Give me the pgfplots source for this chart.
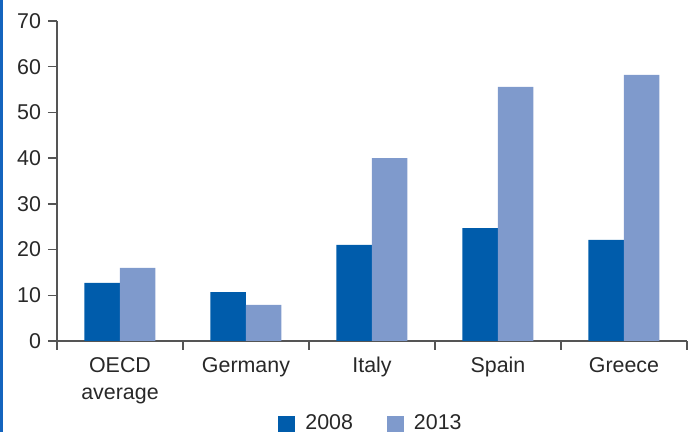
\documentclass[border=0pt]{standalone}
\usepackage{pgfplots}
\pgfplotsset{compat=1.18}
\usepackage{fontspec}
\setmainfont{Liberation Sans}

\definecolor{dark}{RGB}{0,92,171}
\definecolor{light}{RGB}{127,154,204}
\definecolor{axisgray}{RGB}{85,85,85}
\definecolor{txt}{RGB}{40,40,40}
\definecolor{edge}{RGB}{20,100,190}

\newcommand{\chartfont}{\fontsize{10.7}{13.5}\selectfont}

\pgfplotsset{
  sq legend/.style={legend image code/.code={%
    \path[draw=none, fill=none] (0pt,0pt) rectangle (11.5pt,1pt);
    \fill[##1] (0pt,-0.7pt) rectangle (8.5pt,7.8pt);}},
}

\begin{document}
\begin{tikzpicture}
\begin{axis}[
  at={(0,0)}, anchor=south west,
  scale only axis, width=315pt, height=160pt,
  ybar=0pt, bar width=17.75pt,
  xmin=-0.5, xmax=4.5, ymin=0, ymax=70,
  axis lines*=left,
  axis line style={axisgray, line width=0.7pt},
  ytick={0,10,...,70},
  xtick={-0.5,0.5,...,4.5},
  x tick label as interval,
  xticklabels={{OECD\\average},Germany,Italy,Spain,Greece},
  tick align=outside, major tick length=4.5pt,
  tick style={axisgray, line width=0.7pt},
  ticklabel style={font=\chartfont, text=txt},
  xticklabel style={align=center},
  /pgf/number format/assume math mode=true,
  legend columns=-1,
  legend style={at={(axis description cs:0.5,0)}, anchor=south, yshift=-48pt,
    draw=none, fill=none, inner sep=0pt, outer sep=0pt, font=\chartfont, text=txt,
    /tikz/every odd column/.append style={yshift=-4pt},
    /tikz/every even column/.append style={column sep=15pt}},
]
\addplot[fill=dark, draw=none, sq legend] coordinates {(0,12.7) (1,10.7) (2,21.0) (3,24.7) (4,22.1)};
\addplot[fill=light, draw=none, sq legend] coordinates {(0,16.0) (1,7.9) (2,40.0) (3,55.6) (4,58.2)};
\legend{2008,2013}
\end{axis}
\fill[edge] (-28.5pt,-45.5pt) rectangle (-26.8pt,170.5pt);
\pgfresetboundingbox
\path[use as bounding box] (-28.5pt,-45.5pt) rectangle (320pt,170.5pt);
\end{tikzpicture}
\end{document}
